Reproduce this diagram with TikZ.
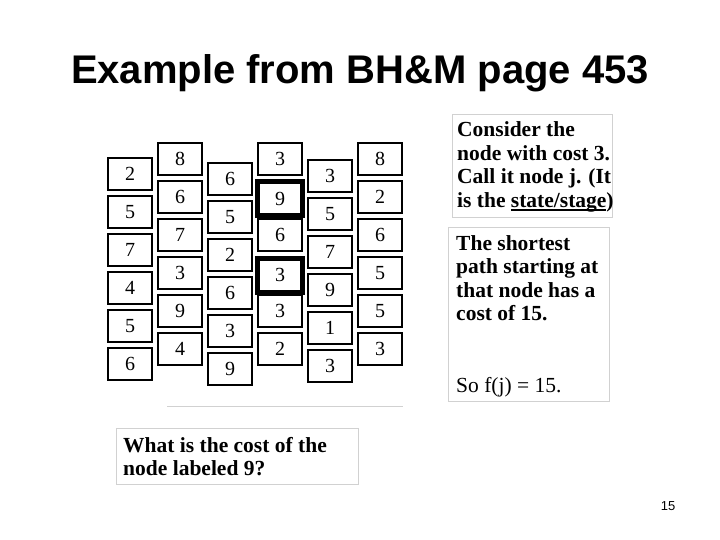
\documentclass[tikz,border=0pt]{standalone}
\usepackage{fontspec}
\setmainfont{Liberation Serif}
\newfontfamily\titlefont{Liberation Sans}
\newlength\myulw
\newcommand\myul[1]{\settowidth\myulw{#1}\rlap{\rule[-3.5pt]{\myulw}{1.6pt}}#1}
\begin{document}
\begin{tikzpicture}[x=1pt,y=-1pt,
  cell/.style={draw=black,line width=2.2pt,minimum width=44pt,minimum height=32pt,inner sep=0pt,fill=white,
    font=\fontsize{20}{22}\selectfont},
  boldcell/.style={cell,line width=5pt,minimum width=45pt,minimum height=34pt},
  frame/.style={draw=black!18,line width=1pt,inner sep=0pt},
  txt/.style={anchor=base west,inner sep=0pt,font=\fontsize{21.5}{24}\selectfont\bfseries},
  rtxt/.style={anchor=base west,inner sep=0pt,font=\fontsize{21.5}{24}\selectfont}]
\useasboundingbox (0,0) rectangle (720,540);
\fill[white] (0,0) rectangle (720,540);
% title
\node[anchor=base,inner sep=0pt,font=\titlefont\fontsize{40}{44}\selectfont\bfseries] (title) at (360,84) {Example from BH\&M page 453};
% grid of cells
\foreach \c/\x/\t/\labs in {1/130/157/{2,5,7,4,5,6},2/180/142/{8,6,7,3,9,4},3/230/162/{6,5,2,6,3,9},5/330/159/{3,5,7,9,1,3},6/380/142/{8,2,6,5,5,3}}{
  \foreach \l [count=\r from 0] in \labs {
    \node[cell] (c\c r\r) at (\x,{\t+17+38*\r}) {\l};
  }
}
\node[cell] (c4r0) at (280,159) {3};
\node[boldcell] (c4r1) at (280,199) {9};
\node[cell] (c4r2) at (280,235) {6};
\node[boldcell] (c4r3) at (280,275) {3};
\node[cell] (c4r4) at (280,311) {3};
\node[cell] (c4r5) at (280,349) {2};
% thin line under grid
\draw[black!18,line width=1pt] (167,406) coordinate (la) -- (403,406) coordinate (lb);
% text box 1
\node[frame,minimum width=160pt,minimum height=103pt] (box1) at (532,166.5) {};
\node[txt] (b1l1) at (457,137) {Consider the};
\node[txt] (b1l2) at (457,160.5) {node with cost 3.};
\node[txt] (b1l3) at (457,184) {Call it node j.\hspace{7pt}(It};
\node[txt] (b1l4) at (457,207.5) {is the \myul{state/stage})};
% text box 2
\node[frame,minimum width=161pt,minimum height=173pt] (box2) at (528.5,314.5) {};
\node[txt] (b2l1) at (456,250) {The shortest};
\node[txt] (b2l2) at (456,273.5) {path starting at};
\node[txt] (b2l3) at (456,297) {that node has a};
\node[txt] (b2l4) at (456,320.5) {cost of 15.};
\node[rtxt] (b2l5) at (456,392) {So f(j) = 15.};
% text box 3
\node[frame,minimum width=242pt,minimum height=56pt] (box3) at (237,456) {};
\node[txt] (b3l1) at (123,452) {What is the cost of the};
\node[txt] (b3l2) at (123,475) {node labeled 9?};
% page number
\node[anchor=base,inner sep=0pt,font=\titlefont\fontsize{13}{15}\selectfont] (pg) at (668,510) {15};
\end{tikzpicture}
\end{document}
